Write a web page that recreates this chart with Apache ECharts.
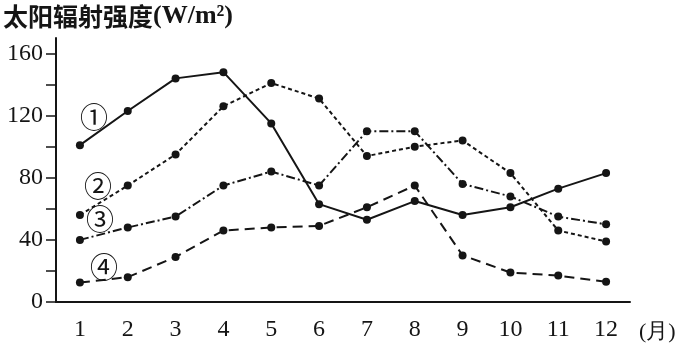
<!DOCTYPE html>
<html>
<head>
<meta charset="utf-8">
<script src="https://cdn.jsdelivr.net/npm/echarts@6/dist/echarts.min.js"></script>
<style>html,body{margin:0;padding:0;background:#fff}#c{width:677px;height:344px}</style>
</head>
<body>
<div id="c"></div>
<script>
const months = ['1','2','3','4','5','6','7','8','9','10','11','12'];
const s1 = [101, 123, 144, 148, 115, 63, 53, 65, 56, 61, 73, 83];
const s2 = [56, 75, 95, 126, 141, 131, 94, 100, 104, 83, 46, 39];
const s3 = [40, 48, 55, 75, 84, 75, 110, 110, 76, 68, 55, 50];
const s4 = [12.5, 16, 29, 46, 48, 49, 61, 75, 30, 19, 17, 13];
const yLabels = [0, 40, 80, 120, 160];
const yTicks = [0, 20, 40, 60, 80, 100, 120, 140, 160];
const seriesNames = ['①', '②', '③', '④'];

const ink = '#151515';
const serif = '"Liberation Serif", "DejaVu Serif", serif';
function line(name, data, type, width) {
  return {
    name, type: 'line', data,
    symbol: 'circle', symbolSize: 8,
    itemStyle: { color: ink },
    lineStyle: { color: ink, width: width, type: type },
    animation: false
  };
}
const chart = echarts.init(document.getElementById('c'));
chart.setOption({
  backgroundColor: '#fff',
  grid: { left: 56, right: 47, top: 38, bottom: 42, outerBoundsMode: 'none', containLabel: false },
  xAxis: {
    type: 'category', data: months, boundaryGap: true,
    axisLine: { lineStyle: { color: ink, width: 2 } },
    axisTick: { alignWithLabel: true, length: 8, lineStyle: { color: ink, width: 1.5 } },
    axisLabel: { color: ink, fontFamily: serif, fontSize: 24, margin: 16 },
    name: '(月)', nameLocation: 'end', nameGap: 9,
    nameTextStyle: { color: ink, fontFamily: serif, fontSize: 22, verticalAlign: 'top', padding: [19, 0, 0, 0] }
  },
  yAxis: {
    type: 'value', min: 0, max: 170,
    splitLine: { show: false },
    axisLine: { show: true, lineStyle: { color: ink, width: 2 } },
    axisTick: { show: true, length: 10, customValues: yTicks, lineStyle: { color: ink, width: 1.5 } },
    axisLabel: { color: ink, fontFamily: serif, fontSize: 24, margin: 13, customValues: yLabels }
  },
  series: [
    line(seriesNames[0], s1, 'solid', 2),
    line(seriesNames[1], s2, [4, 3], 2),
    line(seriesNames[2], s3, [9, 3, 2, 3], 2),
    line(seriesNames[3], s4, [10, 6], 2)
  ],
  graphic: [
    { type: 'text', left: 3, top: 3, style: {
      rich: {
        a: { fontFamily: '"Noto Sans CJK SC"', fontSize: 25, fontWeight: 'bold', fill: ink },
        b: { fontFamily: serif, fontSize: 26, fontWeight: 'bold', fill: ink }
      },
      text: '{a|太阳辐射强度}{b|(W/m²)}'
    } },
    { type: 'text', x: 94, y: 117, style: { text: seriesNames[0], fontFamily: '"Noto Sans CJK SC"', fontSize: 28, fill: ink, align: 'center', verticalAlign: 'middle' } },
    { type: 'text', x: 98, y: 186, style: { text: seriesNames[1], fontFamily: '"Noto Sans CJK SC"', fontSize: 28, fill: ink, align: 'center', verticalAlign: 'middle' } },
    { type: 'text', x: 100, y: 219, style: { text: seriesNames[2], fontFamily: '"Noto Sans CJK SC"', fontSize: 28, fill: ink, align: 'center', verticalAlign: 'middle' } },
    { type: 'text', x: 104, y: 267, style: { text: seriesNames[3], fontFamily: '"Noto Sans CJK SC"', fontSize: 28, fill: ink, align: 'center', verticalAlign: 'middle' } }
  ]
});
</script>
</body>
</html>
